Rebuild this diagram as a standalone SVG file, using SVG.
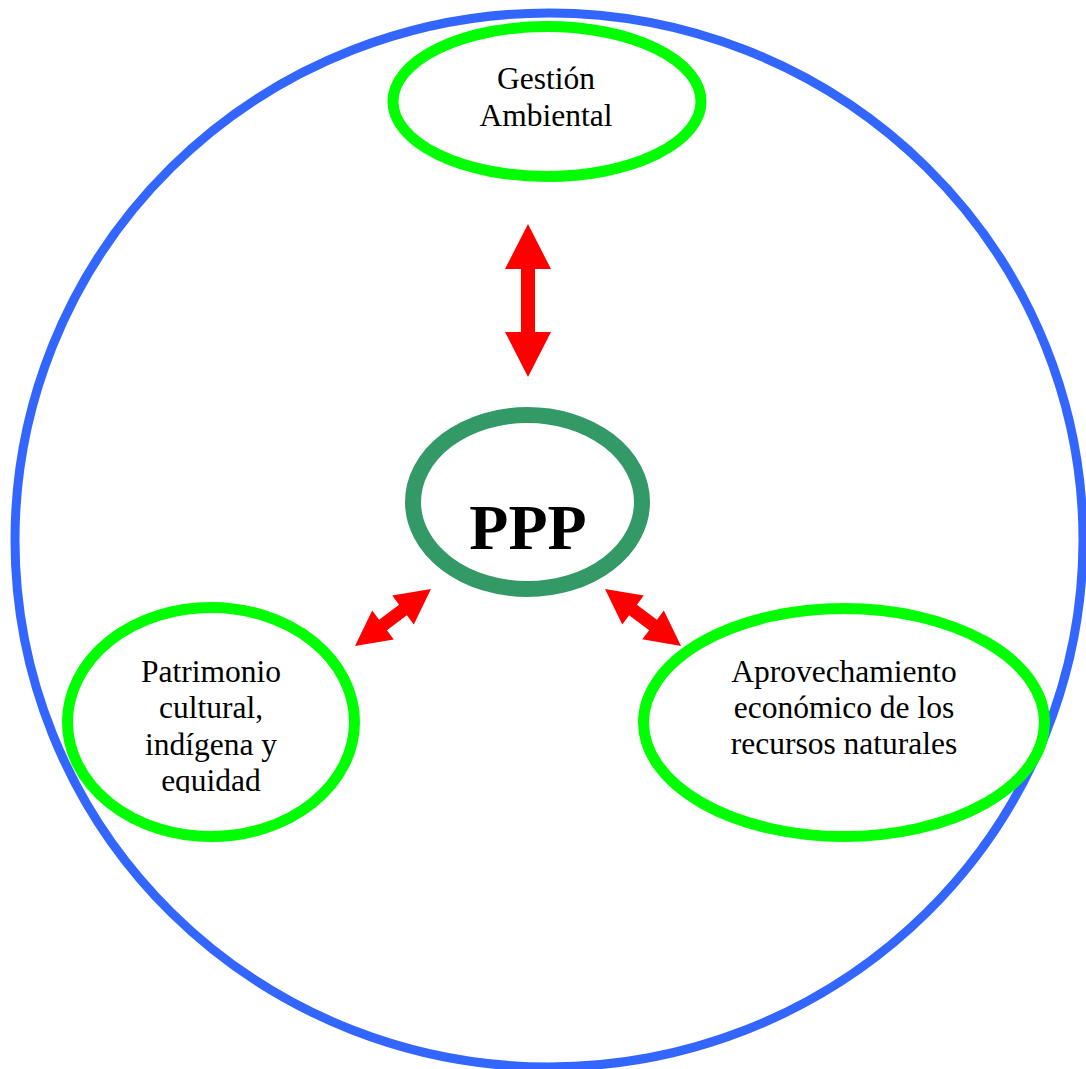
<svg xmlns="http://www.w3.org/2000/svg" width="1086" height="1069" viewBox="0 0 1086 1069">
<style>
.outer{fill:none;stroke:#3366FF;stroke-width:9}
.node{fill:none;stroke:#00FF00;stroke-width:11}
.core{fill:none;stroke:#339966;stroke-width:16}
.lbl{font-family:"Liberation Serif","Times New Roman",serif;font-size:31.5px;fill:#000;text-anchor:middle}
.big{font-family:"Liberation Serif","Times New Roman",serif;font-size:64px;font-weight:bold;fill:#000;text-anchor:middle}
.arr{fill:#FF0000}
</style>
<defs>
<clipPath id="clipPat"><rect x="60" y="640" width="300" height="153"/></clipPath>
</defs>
<rect width="1086" height="1069" fill="#fff"/>
<ellipse class="outer" cx="549" cy="540" rx="534" ry="527"/>
<g id="connectors">
<polygon class="arr" points="528,224 551,269 535,269 535,332 551,332 528,377 505,332 521,332 521,269 505,269"/>
<polygon class="arr" transform="translate(355,646) rotate(-36.87)" points="0,0 35,-18 35,-6.5 60,-6.5 60,-18 95,0 60,18 60,6.5 35,6.5 35,18"/>
<polygon class="arr" transform="translate(605,589) rotate(36.8)" points="0,0 35,-18 35,-6.5 60,-6.5 60,-18 95,0 60,18 60,6.5 35,6.5 35,18"/>
</g>
<g id="gestion">
<ellipse class="node" cx="547" cy="101.5" rx="154" ry="75"/>
<text class="lbl" x="546" y="89">Gestión</text>
<text class="lbl" x="546" y="126">Ambiental</text>
</g>
<g id="ppp">
<ellipse class="core" cx="527.5" cy="502" rx="114.5" ry="87"/>
<text class="big" x="528" y="549">PPP</text>
</g>
<g id="patrimonio">
<ellipse class="node" cx="211" cy="722" rx="143.5" ry="114.5"/>
<g clip-path="url(#clipPat)">
<text class="lbl" x="211" y="682">Patrimonio</text>
<text class="lbl" x="211" y="718">cultural,</text>
<text class="lbl" x="211" y="755">indígena y</text>
<text class="lbl" x="211" y="791">equidad</text>
</g>
</g>
<g id="aprovechamiento">
<ellipse class="node" cx="844" cy="722.5" rx="200.5" ry="114"/>
<text class="lbl" x="844" y="682">Aprovechamiento</text>
<text class="lbl" x="844" y="718">económico de los</text>
<text class="lbl" x="844" y="754">recursos naturales</text>
</g>
</svg>
